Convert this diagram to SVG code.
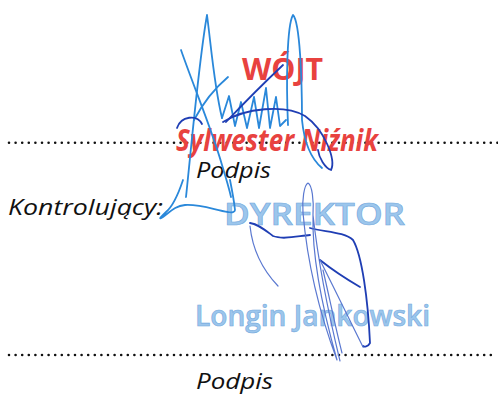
<svg xmlns="http://www.w3.org/2000/svg" width="498" height="395" viewBox="0 0 498 395">
<style>
.lbl{font-family:"Open Sans","Liberation Sans",sans-serif;font-style:italic;font-size:22px;fill:#111}
.dots{stroke:#111;stroke-width:2.6;stroke-linecap:round;stroke-dasharray:0 6.6;fill:none}
.red{font-family:"Open Sans","DejaVu Sans",sans-serif;font-weight:bold;fill:#e8423f}
.stampb{font-family:"Open Sans","DejaVu Sans",sans-serif;font-weight:600;fill:#9cc6ec;stroke:#74a9dd;stroke-width:0.6}
.sl{fill:none;stroke:#2a88da;stroke-width:1.8;stroke-linecap:round;stroke-linejoin:round}
.sd{fill:none;stroke:#1f3eb4;stroke-width:1.8;stroke-linecap:round;stroke-linejoin:round}
.sp{fill:none;stroke:#5a78d0;stroke-width:1.2;stroke-linecap:round;stroke-linejoin:round}
</style>
<rect width="498" height="395" fill="#fff"/>
<g id="lines">
<line class="dots" x1="9" y1="142.7" x2="498" y2="142.7"/>
<line class="dots" x1="9" y1="355" x2="492" y2="355"/>
</g>
<g id="labels">
<text class="lbl" x="196" y="178" textLength="75" lengthAdjust="spacingAndGlyphs">Podpis</text>
<text class="lbl" x="8" y="215" font-size="23" textLength="155" lengthAdjust="spacingAndGlyphs">Kontrolujący:</text>
<text class="lbl" x="196" y="389" textLength="77" lengthAdjust="spacingAndGlyphs">Podpis</text>
</g>
<g id="stamp1">
<text class="red" x="242" y="80" font-size="30" textLength="81" lengthAdjust="spacingAndGlyphs">WÓJT</text>
<text class="red" x="176" y="151" font-size="31" font-style="italic" textLength="202" lengthAdjust="spacingAndGlyphs">Sylwester Niźnik</text>
</g>
<g id="stamp2">
<text class="stampb" x="224" y="225" font-size="30" textLength="181" lengthAdjust="spacingAndGlyphs">DYREKTOR</text>
<text class="stampb" x="195" y="326" font-size="28" textLength="235" lengthAdjust="spacingAndGlyphs">Longin Jankowski</text>
</g>
<g id="signature1">
<path class="sl" d="M186,197 C192,140 199,60 207,15 C211,45 214,85 222,118"/>
<path class="sl" d="M181,50 C195,90 212,130 222,165 C226,178 229,188 231,197"/>
<path class="sl" d="M228,77 C215,88 203,103 194,120"/>
<path class="sl" d="M222,118 L229,96 L235,126 L241,102 L247,128 L254,97 L259,128 L266,88 L270,128 L276,97 L280,126 L286,120"/>
<path class="sl" d="M288,125 C286,80 287,25 293,15 C300,22 302,80 302,120 C304,140 310,158 322,168"/>
<path class="sd" d="M177,128 C181,116 197,114 202,124 M223,122 C245,108 285,104 305,116 C325,130 336,160 331,170 C325,168 319,158 318,150"/>
<path class="sd" d="M283,65 C265,82 245,102 226,122"/>
</g>
<g id="signature2">
<path class="sl" d="M183,180 C178,195 172,207 166,212 C160,218 158,220 163,217 C170,212 175,206 185,205 C200,204 215,210 228,212 C232,213 235,212 235,210 C234,200 232,190 230,180"/>
<path class="sd" d="M250,223 C258,224 265,230 273,236 C283,240 298,236 310,235"/>
<path class="sd" d="M310,228 C325,232 345,232 353,240 C362,255 368,300 370,343 C368,347 364,347 363,346"/>
<path class="sp" d="M250,226 C252,245 258,265 278,286"/>
<path class="sp" d="M303,213 C302,200 304,185 308,183 C312,185 314,200 313,215 C312,250 320,300 337,360 M303,213 C308,270 322,320 337,360 M313,215 C318,260 330,320 340,361"/>
<path class="sd" d="M320,260 C335,272 348,280 360,287"/>
<path class="sp" d="M320,260 C335,290 352,325 363,347 M323,270 C330,300 336,330 342,353"/>
</g>
</svg>
